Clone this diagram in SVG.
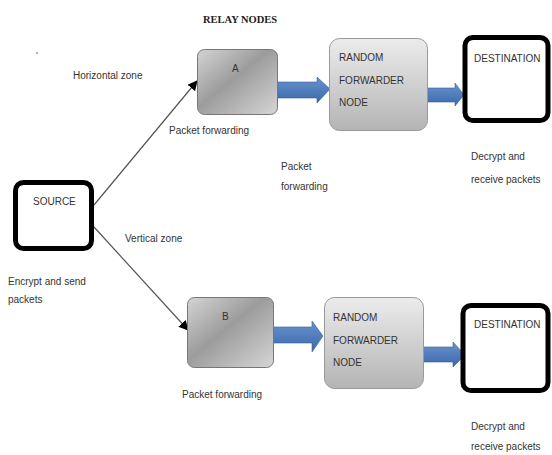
<svg xmlns="http://www.w3.org/2000/svg" width="552" height="455" viewBox="0 0 552 455">
<defs>
<linearGradient id="gA" x1="0" y1="0" x2="1" y2="1">
<stop offset="0" stop-color="#d4d4d4"/>
<stop offset="0.45" stop-color="#9c9c9c"/>
<stop offset="1" stop-color="#d6d6d6"/>
</linearGradient>
<linearGradient id="gR" x1="0" y1="0" x2="0" y2="1">
<stop offset="0" stop-color="#ececec"/>
<stop offset="1" stop-color="#b4b4b4"/>
</linearGradient>
<linearGradient id="gBlue" x1="0" y1="0" x2="0" y2="1">
<stop offset="0" stop-color="#6a93cc"/>
<stop offset="1" stop-color="#3a68ad"/>
</linearGradient>
<marker id="tri" viewBox="0 0 10 10" refX="9" refY="5" markerWidth="10" markerHeight="10" markerUnits="userSpaceOnUse" orient="auto">
<path d="M0,0 L10,5 L0,10 z" fill="#000"/>
</marker>
</defs>
<style>
.t{font-family:"Liberation Sans","Open Sans",sans-serif;font-size:10px;fill:#333}
.relay{fill:url(#gA);stroke:#777;stroke-width:1}
.rf{fill:url(#gR);stroke:#999;stroke-width:1}
.term{fill:#fff;stroke:#000;stroke-width:5}
.blue{fill:url(#gBlue);stroke:#3a5f98;stroke-width:0.6}
.ln{stroke:#555;stroke-width:1.2;fill:none}
</style>
<rect width="552" height="455" fill="#fff"/>
<text x="203" y="23" font-family="Liberation Serif,serif" font-weight="bold" font-size="10.5" fill="#222">RELAY NODES</text>
<circle cx="37" cy="53" r="1" fill="#999"/>
<text class="t" x="73" y="79">Horizontal zone</text>
<text class="t" x="125" y="242">Vertical zone</text>
<text class="t" x="8" y="285">Encrypt and send</text>
<text class="t" x="8" y="303">packets</text>
<g id="connectors">
<path class="ln" d="M94,205 L197,81" marker-end="url(#tri)"/>
<path class="ln" d="M94,227 L188,330" marker-end="url(#tri)"/>
<path class="blue" d="M277,82 L317,82 L317,77 L330,89 L317,103 L317,98 L277,98 z"/>
<path class="blue" d="M427,88 L455,88 L455,83 L464,95 L455,106 L455,102 L427,102 z"/>
<path class="blue" d="M273,327 L312,327 L312,321 L323,336 L312,352 L312,343 L273,343 z"/>
<path class="blue" d="M423,347 L453,347 L453,342 L465,355 L453,367 L453,362 L423,362 z"/>
</g>
<g id="source">
<rect class="term" x="15.5" y="182.5" width="76" height="66" rx="8"/>
<text class="t" x="33" y="205">SOURCE</text>
</g>
<g id="nodeA">
<rect class="relay" x="197.5" y="49.5" width="80" height="65" rx="7"/>
<text class="t" x="232" y="72">A</text>
<text class="t" x="169" y="134">Packet forwarding</text>
</g>
<g id="nodeB">
<rect class="relay" x="187.5" y="297.5" width="86" height="70" rx="7"/>
<text class="t" x="222" y="320">B</text>
<text class="t" x="182" y="398">Packet forwarding</text>
</g>
<g id="rf1">
<rect class="rf" x="329.5" y="38.5" width="98" height="92" rx="10"/>
<text class="t" x="339" y="61">RANDOM</text>
<text class="t" x="339" y="84">FORWARDER</text>
<text class="t" x="339" y="106">NODE</text>
</g>
<text class="t" x="281" y="170">Packet</text>
<text class="t" x="281" y="190">forwarding</text>
<g id="rf2">
<rect class="rf" x="324.5" y="297.5" width="99" height="91" rx="10"/>
<text class="t" x="333" y="321">RANDOM</text>
<text class="t" x="333" y="344">FORWARDER</text>
<text class="t" x="333" y="366">NODE</text>
</g>
<g id="dest1">
<rect class="term" x="465" y="37.5" width="83" height="83" rx="8"/>
<text class="t" x="474" y="62">DESTINATION</text>
<text class="t" x="471" y="160">Decrypt and</text>
<text class="t" x="471" y="183">receive packets</text>
</g>
<g id="dest2">
<rect class="term" x="463" y="305.5" width="85" height="85" rx="8"/>
<text class="t" x="474" y="328">DESTINATION</text>
<text class="t" x="471" y="430">Decrypt and</text>
<text class="t" x="471" y="450">receive packets</text>
</g>
</svg>
